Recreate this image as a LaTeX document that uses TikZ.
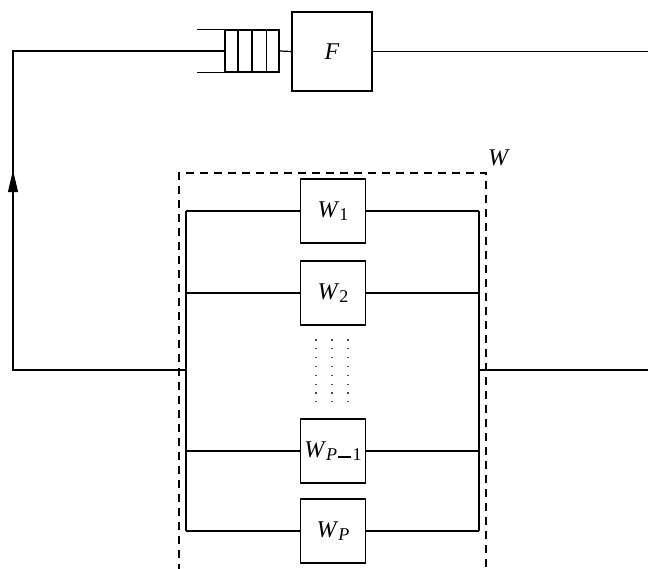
\documentclass[tikz,border=0pt]{standalone}
\usepackage{fontspec}
\setmainfont{Liberation Serif}
\usetikzlibrary{arrows.meta,decorations.markings}
\newcommand{\mysub}[1]{\raisebox{-0.3ex}{\fontsize{18}{20}\selectfont #1}}
\begin{document}
\begin{tikzpicture}[x=1pt,y=-1pt,line width=1.2pt,
  box/.style={draw,minimum width=65pt,minimum height=64pt,inner sep=0pt,font=\fontsize{24}{28}\selectfont},
  fbox/.style={draw,minimum width=80pt,minimum height=79pt,inner sep=0pt,font=\fontsize{24}{28}\selectfont\itshape},
  qbox/.style={draw,minimum width=54pt,minimum height=42pt,inner sep=0pt},
  wire/.style={line width=1.2pt},
  dashbox/.style={line width=1.2pt,dash pattern=on 8pt off 6pt},
  dotcol/.style={line width=1.2pt,black!70,dash pattern=on 1.2pt off 7.6pt},
  uparrow/.style={postaction={decorate},decoration={markings,
     mark=at position 0.53 with {\arrow{Triangle[length=22pt,width=10pt]}}}}
]
\useasboundingbox (0,0) rectangle (648,569);
\clip (0,0) rectangle (648,569);
% nodes
\node[fbox] (F) at (332,51.5) {F};
\node[qbox] (q) at (252,51) {};
\node[box] (w1) at (333,211) {\textit{W}\mysub{1}};
\node[box] (w2) at (333,293) {\textit{W}\mysub{2}};
\node[box] (wp1) at (333,451) {\textit{W}\mysub{\textit{P}\hspace{1pt}\rule[0.33ex]{13pt}{1.9pt}\hspace{1.5pt}1}};
\node[box] (wp) at (333,531) {\textit{W}\mysub{\textit{P}}};
\node[font=\fontsize{24}{28}\selectfont\itshape] (wl) at (498,158) {W};
% queue details
\draw[wire] ([xshift=13.5pt]q.north west) -- ([xshift=13.5pt]q.south west);
\draw[wire] (q.north) -- (q.south);
\draw[wire] ([xshift=-13.5pt]q.north east) -- ([xshift=-13.5pt]q.south east);
\draw[wire] (q.north west) -- ++(-27,0);
\draw[wire] (q.south west) -- ++(-27,0);
% coordinates
\coordinate (fr) at (648,51.5);
\coordinate (bl) at (186,370);
\coordinate (br) at (479,370);
\coordinate (rr) at (648,370);
\coordinate (lc) at (13,370);
\coordinate (tc) at (13,51);
\coordinate (lt) at (186,211);
\coordinate (lb) at (186,531);
\coordinate (rt) at (479,211);
\coordinate (rb) at (479,531);
% connectors
\draw[wire] (q.east) -- (F.west);
\draw[wire] (F.east) -- (fr);
\draw[wire,uparrow] (bl) -- (lc) -- (tc) -- (q.west);
\draw[wire] (br) -- (rr);
\draw[wire] (lt) -- (lb);
\draw[wire] (rt) -- (rb);
\foreach \n in {w1,w2,wp1,wp}{
  \draw[wire] (\n.west) -- (\n.west -| lt);
  \draw[wire] (\n.east) -- (\n.east -| rt);
}
% dashed enclosure
\draw[dashbox] (179,600) -- (179,173) -- (486,173) -- (486,600);
% dots
\foreach \x in {316,332,348}{
  \draw[dotcol] (\x,339.5) -- (\x,404);
}
\end{tikzpicture}
\end{document}
